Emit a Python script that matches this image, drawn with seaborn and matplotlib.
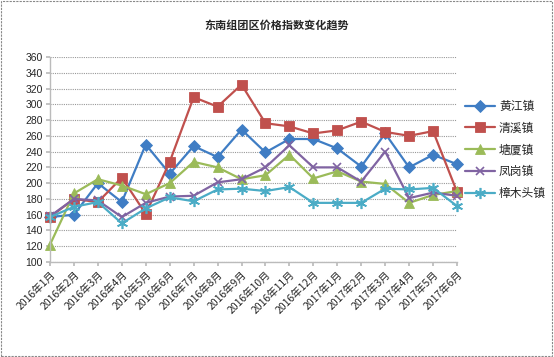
import numpy as np
import pandas as pd
import seaborn as sns
import matplotlib
matplotlib.use("Agg")
import matplotlib.pyplot as plt
from matplotlib.patches import Rectangle

months = ["2016年1月", "2016年2月", "2016年3月", "2016年4月", "2016年5月", "2016年6月",
          "2016年7月", "2016年8月", "2016年9月", "2016年10月", "2016年11月", "2016年12月",
          "2017年1月", "2017年2月", "2017年3月", "2017年4月", "2017年5月", "2017年6月"]
huangjiang = [157, 160, 200, 176, 249, 212, 247, 233, 268, 239, 256, 256, 244, 221, 263, 220, 236, 224]
qingxi     = [157, 180, 176, 207, 161, 227, 309, 297, 325, 276, 272, 263, 267, 278, 265, 260, 266, 189]
tangxia    = [122, 187, 205, 197, 186, 200, 227, 220, 205, 210, 236, 206, 215, 202, 199, 175, 185, 190]
fenggang   = [158, 180, 178, 157, 175, 183, 184, 201, 205, 220, 248, 220, 220, 202, 240, 181, 188, 184]
zhangmutou = [157, 170, 176, 149, 168, 182, 177, 192, 193, 190, 195, 175, 175, 175, 193, 192, 194, 171]

series_names = ["黄江镇", "清溪镇", "塘厦镇", "凤岗镇", "樟木头镇"]
series_vals = [huangjiang, qingxi, tangxia, fenggang, zhangmutou]
colors = ["#3F7DC4", "#C0504D", "#9BBB59", "#8064A2", "#4BACC6"]
markers = ["D", "s", "^", "x", (6, 2, 0)]
msizes = [6, 7, 7, 6, 8]

sns.set_theme(style="white")
plt.rcParams['font.family'] = ['Noto Sans CJK SC', 'DejaVu Sans']

rows = []
for name, vals in zip(series_names, series_vals):
    for i, v in enumerate(vals):
        rows.append({"idx": i, "value": v, "town": name})
df = pd.DataFrame(rows)

fig = plt.figure(figsize=(5.54, 3.57), dpi=100)
ax = fig.add_axes([50 / 554, 1 - 262 / 357, (457 - 50) / 554, (262 - 57) / 357])

for name, c, m, ms in zip(series_names, colors, markers, msizes):
    sub = df[df["town"] == name]
    sns.lineplot(data=sub, x="idx", y="value", ax=ax, color=c, marker=m,
                 markersize=ms, linewidth=1.6, label=name, clip_on=False,
                 markeredgecolor=c, markeredgewidth=1.2 if m in ("x",) or isinstance(m, tuple) else 0.6)

ax.set_xlim(0, len(months) - 1)
ax.set_ylim(100, 360)
ax.set_yticks(np.arange(100, 361, 20))
ax.set_yticklabels([str(v) for v in range(100, 361, 20)], fontsize=7.5, family=['Liberation Sans', 'DejaVu Sans'])
ax.set_xticks(range(len(months)))
ax.set_xticklabels(months, rotation=45, ha="right", rotation_mode="anchor", fontsize=7.5)
ax.set_xlabel("")
ax.set_ylabel("")
ax.grid(axis="y", color="#999999", linestyle=(0, (1, 1)), linewidth=0.8)
ax.set_axisbelow(True)
for s in ["top", "right"]:
    ax.spines[s].set_visible(False)
for s in ["left", "bottom"]:
    ax.spines[s].set_color("#BBBBBB")
    ax.spines[s].set_linewidth(1.0)
ax.tick_params(axis="x", length=3, color="#BBBBBB", pad=2, direction="out", bottom=True)
ax.tick_params(axis="y", length=3, color="#BBBBBB", pad=2, direction="out", left=True)

leg = ax.legend(loc="upper left", bbox_to_anchor=(460 / 554, 1 - 95 / 357),
                bbox_transform=fig.transFigure, frameon=False, fontsize=8.5,
                handlelength=2.6, labelspacing=0.75, handletextpad=0.3, borderaxespad=0)

fig.text(0.5, 1 - 25 / 357, "东南组团区价格指数变化趋势", ha="center", va="center",
         fontsize=8, fontweight="bold")

fig.patches.append(Rectangle((0.002, 0.003), 0.995, 0.994, transform=fig.transFigure,
                             fill=False, edgecolor="#888888", linestyle=(0, (2, 1)), linewidth=0.8))

fig.savefig("out.png", dpi=100)
